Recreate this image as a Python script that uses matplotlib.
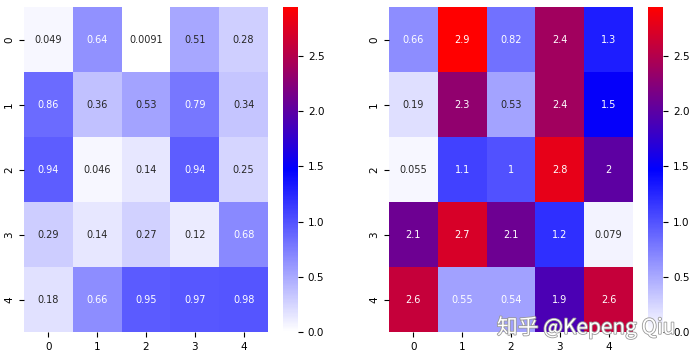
import numpy as np
import matplotlib
matplotlib.use("Agg")
import matplotlib.pyplot as plt
import matplotlib.patheffects as pe
from matplotlib.colors import LinearSegmentedColormap
import seaborn as sns

labels = [0, 1, 2, 3, 4]

left_vals = [
    [0.049, 0.64, 0.0091, 0.51, 0.28],
    [0.86, 0.36, 0.53, 0.79, 0.34],
    [0.94, 0.046, 0.14, 0.94, 0.25],
    [0.29, 0.14, 0.27, 0.12, 0.68],
    [0.18, 0.66, 0.95, 0.97, 0.98],
]

right_vals = [
    [0.66, 2.94, 0.82, 2.4, 1.3],
    [0.19, 2.3, 0.53, 2.4, 1.5],
    [0.055, 1.1, 1.0, 2.8, 2.0],
    [2.1, 2.7, 2.1, 1.2, 0.079],
    [2.6, 0.55, 0.54, 1.9, 2.6],
]

cmap = LinearSegmentedColormap.from_list("wbr", ["white", "blue", "red"])
vmax = np.max(right_vals)

fig = plt.figure(figsize=(6.94, 3.57), dpi=100)
ax1 = fig.add_axes([0.0346, 0.070, 0.3516, 0.910])
cax1 = fig.add_axes([0.408, 0.070, 0.0216, 0.910])
ax2 = fig.add_axes([0.5605, 0.070, 0.3516, 0.910])
cax2 = fig.add_axes([0.934, 0.070, 0.0216, 0.910])

for ax, cax, vals in [(ax1, cax1, left_vals), (ax2, cax2, right_vals)]:
    sns.heatmap(np.array(vals), ax=ax, cbar_ax=cax, cmap=cmap, vmin=0, vmax=vmax,
                annot=True, annot_kws={"fontsize": 7},
                xticklabels=labels, yticklabels=labels)
    ax.tick_params(labelsize=7.5)
    cax.tick_params(labelsize=7.5)

# watermark
fig.text(0.716, 0.065, "知乎 @Kepeng Qiu", fontsize=15, color="white",
         family=["Noto Sans CJK SC", "DejaVu Sans"],
         path_effects=[pe.withStroke(linewidth=1.2, foreground="#999999")])

fig.savefig("out.png", dpi=100)
